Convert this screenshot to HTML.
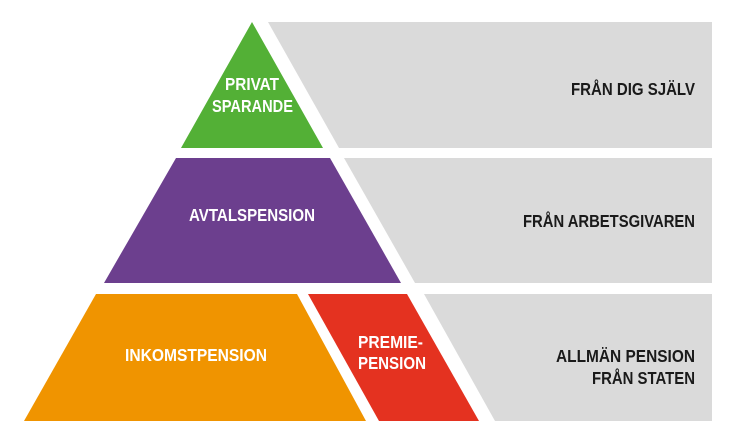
<!DOCTYPE html>
<html><head><meta charset="utf-8"><style>
body{margin:0;background:#fff}
svg text{font-family:"Liberation Sans",sans-serif;font-weight:bold;font-size:17.5px}
</style></head><body>
<svg width="738" height="443" viewBox="0 0 738 443" xmlns="http://www.w3.org/2000/svg">
<rect width="738" height="443" fill="#fff"/>
<polygon points="268,22 712,22 712,148 339,148" fill="#dadada"/>
<polygon points="344,158 712,158 712,283 415,283" fill="#dadada"/>
<polygon points="424,294 712,294 712,421 495,421" fill="#dadada"/>
<polygon points="252,22 323,148 181,148" fill="#53b036"/>
<polygon points="176,158 330,158 401,283 104,283" fill="#6c3f8e"/>
<polygon points="96,294 297,294 366,421 24,421" fill="#f09400"/>
<polygon points="308,294 407,294 479,421 379,421" fill="#e43220"/>
<g fill="#fff" lengthAdjust="spacingAndGlyphs">
<text x="225" y="90" textLength="54" lengthAdjust="spacingAndGlyphs">PRIVAT</text>
<text x="212" y="112" textLength="81" lengthAdjust="spacingAndGlyphs">SPARANDE</text>
<text x="189" y="221" textLength="126" lengthAdjust="spacingAndGlyphs">AVTALSPENSION</text>
<text x="125" y="361" textLength="142" lengthAdjust="spacingAndGlyphs">INKOMSTPENSION</text>
<text x="358" y="348" textLength="65" lengthAdjust="spacingAndGlyphs">PREMIE-</text>
<text x="358" y="369" textLength="68" lengthAdjust="spacingAndGlyphs">PENSION</text>
</g>
<g fill="#1a1a1a">
<text x="571" y="95" textLength="124" lengthAdjust="spacingAndGlyphs">FRÅN DIG SJÄLV</text>
<text x="523" y="227" textLength="172" lengthAdjust="spacingAndGlyphs">FRÅN ARBETSGIVAREN</text>
<text x="556" y="362" textLength="139" lengthAdjust="spacingAndGlyphs">ALLMÄN PENSION</text>
<text x="592" y="384" textLength="103" lengthAdjust="spacingAndGlyphs">FRÅN STATEN</text>
</g>
</svg>
</body></html>
